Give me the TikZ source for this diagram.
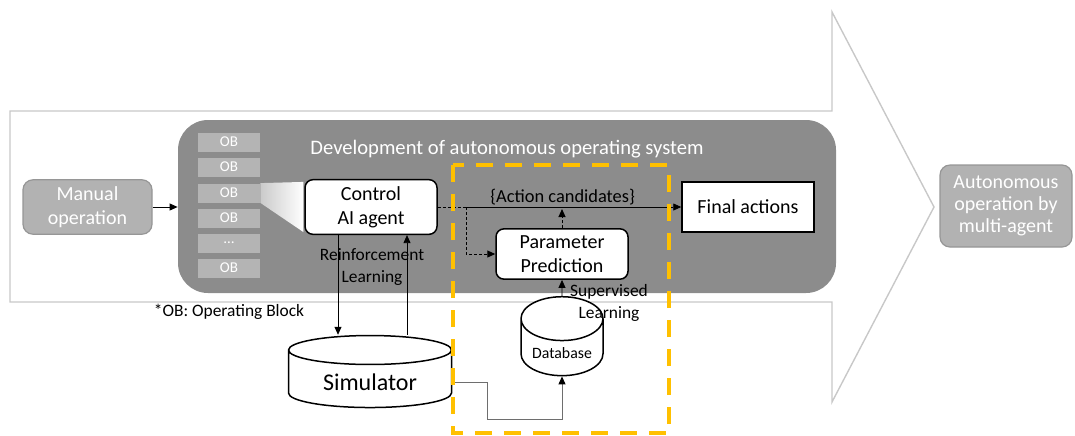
\documentclass[tikz,border=0pt]{standalone}
\usepackage{fontspec}
\setmainfont{Carlito}
\usepackage{xcolor}
\definecolor{devgray}{RGB}{140,140,140}
\definecolor{obgray}{RGB}{180,180,180}
\definecolor{softgray}{RGB}{178,178,178}
\definecolor{edgegray}{RGB}{150,150,150}
\definecolor{outlinegray}{RGB}{200,200,200}
\definecolor{linkgray}{RGB}{110,110,110}
\definecolor{dashyellow}{RGB}{255,192,0}
\usepackage{tikz}
\usetikzlibrary{arrows.meta, positioning, calc, shapes.geometric}
\tikzset{
    whitebox/.style={draw=black, fill=white, line width=0.75pt, rounded corners=4pt, align=center,
        font=\fontsize{10}{12}\selectfont, minimum width=66pt, minimum height=24.5pt},
    graybox/.style={draw=edgegray, fill=softgray, text=white, line width=0.6pt, rounded corners=5pt,
        align=center, font=\fontsize{10}{12}\selectfont},
    obbox/.style={fill=obgray, text=white, minimum width=31pt, minimum height=9.5pt, inner sep=0pt,
        font=\fontsize{7.5}{8}\selectfont},
    drum/.style={cylinder, shape border rotate=90, draw=black, fill=white, line width=0.75pt},
    smalltext/.style={font=\fontsize{8.7}{11}\selectfont, align=center, inner sep=0pt},
    flowdash/.style={dash pattern=on 1.5pt off 1pt, line width=0.5pt},
}

\begin{document}
\begin{tikzpicture}[x=0.5pt, y=-0.5pt, >={Triangle[length=4pt, width=3.5pt]}]
    \useasboundingbox (0,0) rectangle (1075,435);
    \draw[outlinegray, line width=0.7pt] (10,111) -- (832,111) -- (832,12) -- (934,207) -- (832,402) -- (832,302) -- (10,302) -- cycle;
    \node[fill=devgray, rounded corners=15pt, minimum width=329pt, minimum height=86.5pt] (devbox) at (507,206.5) {};
    \node[text=white, font=\fontsize{10.3}{12}\selectfont] (devtitle) at (507,149) {Development of autonomous operating system};
    \foreach \i/\y/\t in {1/142/OB, 2/167/OB, 3/193/OB, 4/218/OB, 5/243/\ldots, 6/268/OB}
        \node[obbox] (ob\i) at (229,\y) {\t};
    \node[whitebox] (ctrl) at (371,207) {Control\\AI agent};
    \shade[left color=obgray!70, right color=white] (ob3.north east) -- ([xshift=-0.4pt, yshift=-1.5pt]ctrl.north west)
        -- ([xshift=-0.4pt, yshift=1.5pt]ctrl.south west) -- (ob3.south east) -- cycle;
    \node[graybox, minimum width=64.5pt, minimum height=25.5pt] (manual) at (87.5,207) {Manual\\operation};
    \draw[->] (manual.east) -- (manual.east -| devbox.west);
    \node[whitebox, rounded corners=0pt, minimum height=25pt] (final) at (748,207) {Final actions};
    \node[whitebox, minimum height=24pt] (param) at (562,254) {Parameter\\Prediction};
    \coordinate (split) at (466,207);
    \draw[flowdash] (ctrl.east) -- (split);
    \draw[->] (split) -- node[smalltext, font=\fontsize{9.2}{10}\selectfont, above=1pt, xshift=-5.5pt] (candlabel) {\{Action candidates\}} (final.west);
    \draw[flowdash, ->] (split) |- (param.west);
    \draw[flowdash, ->] (param.north) -- ([yshift=-1pt]param.north |- final.west);
    \node[drum, minimum width=81.5pt, minimum height=36pt, aspect=0.27, font=\fontsize{12}{14}\selectfont] (sim) at (370,382) {Simulator};
    \node[drum, minimum width=41pt, minimum height=36.5pt, aspect=0.6, font=\fontsize{7.9}{9}\selectfont] (db) at (562,353.5) {Database};
    \draw[->] ([xshift=-16.5pt]ctrl.south) -- ([xshift=-16.5pt]ctrl.south |- sim.north);
    \draw[->] ([xshift=18pt]ctrl.south |- sim.north) -- ([xshift=18pt]ctrl.south);
    \node[smalltext] (rl) at (372,267) {Reinforcement\\Learning};
    \draw[->] (db.north) -- (param.south);
    \node[smalltext] (sl) at (609,303) {Supervised\\Learning};
    \coordinate (jog) at (487,419);
    \draw[linkgray, line width=0.5pt, -{Triangle[length=4pt, width=3.5pt, black]}] (sim.east) -| (jog) -| (db.south);
    \node[graybox, minimum width=66pt, minimum height=41pt, font=\fontsize{10}{11}\selectfont] (auto) at (1006,206) {Autonomous\\operation by\\multi-agent};
    \node[smalltext] (oblegend) at (229,312) {*OB: Operating Block};
    \draw[dashyellow, line width=2pt, dash pattern=on 8.5pt off 6pt] (453,165) rectangle (669,433);
\end{tikzpicture}
\end{document}
